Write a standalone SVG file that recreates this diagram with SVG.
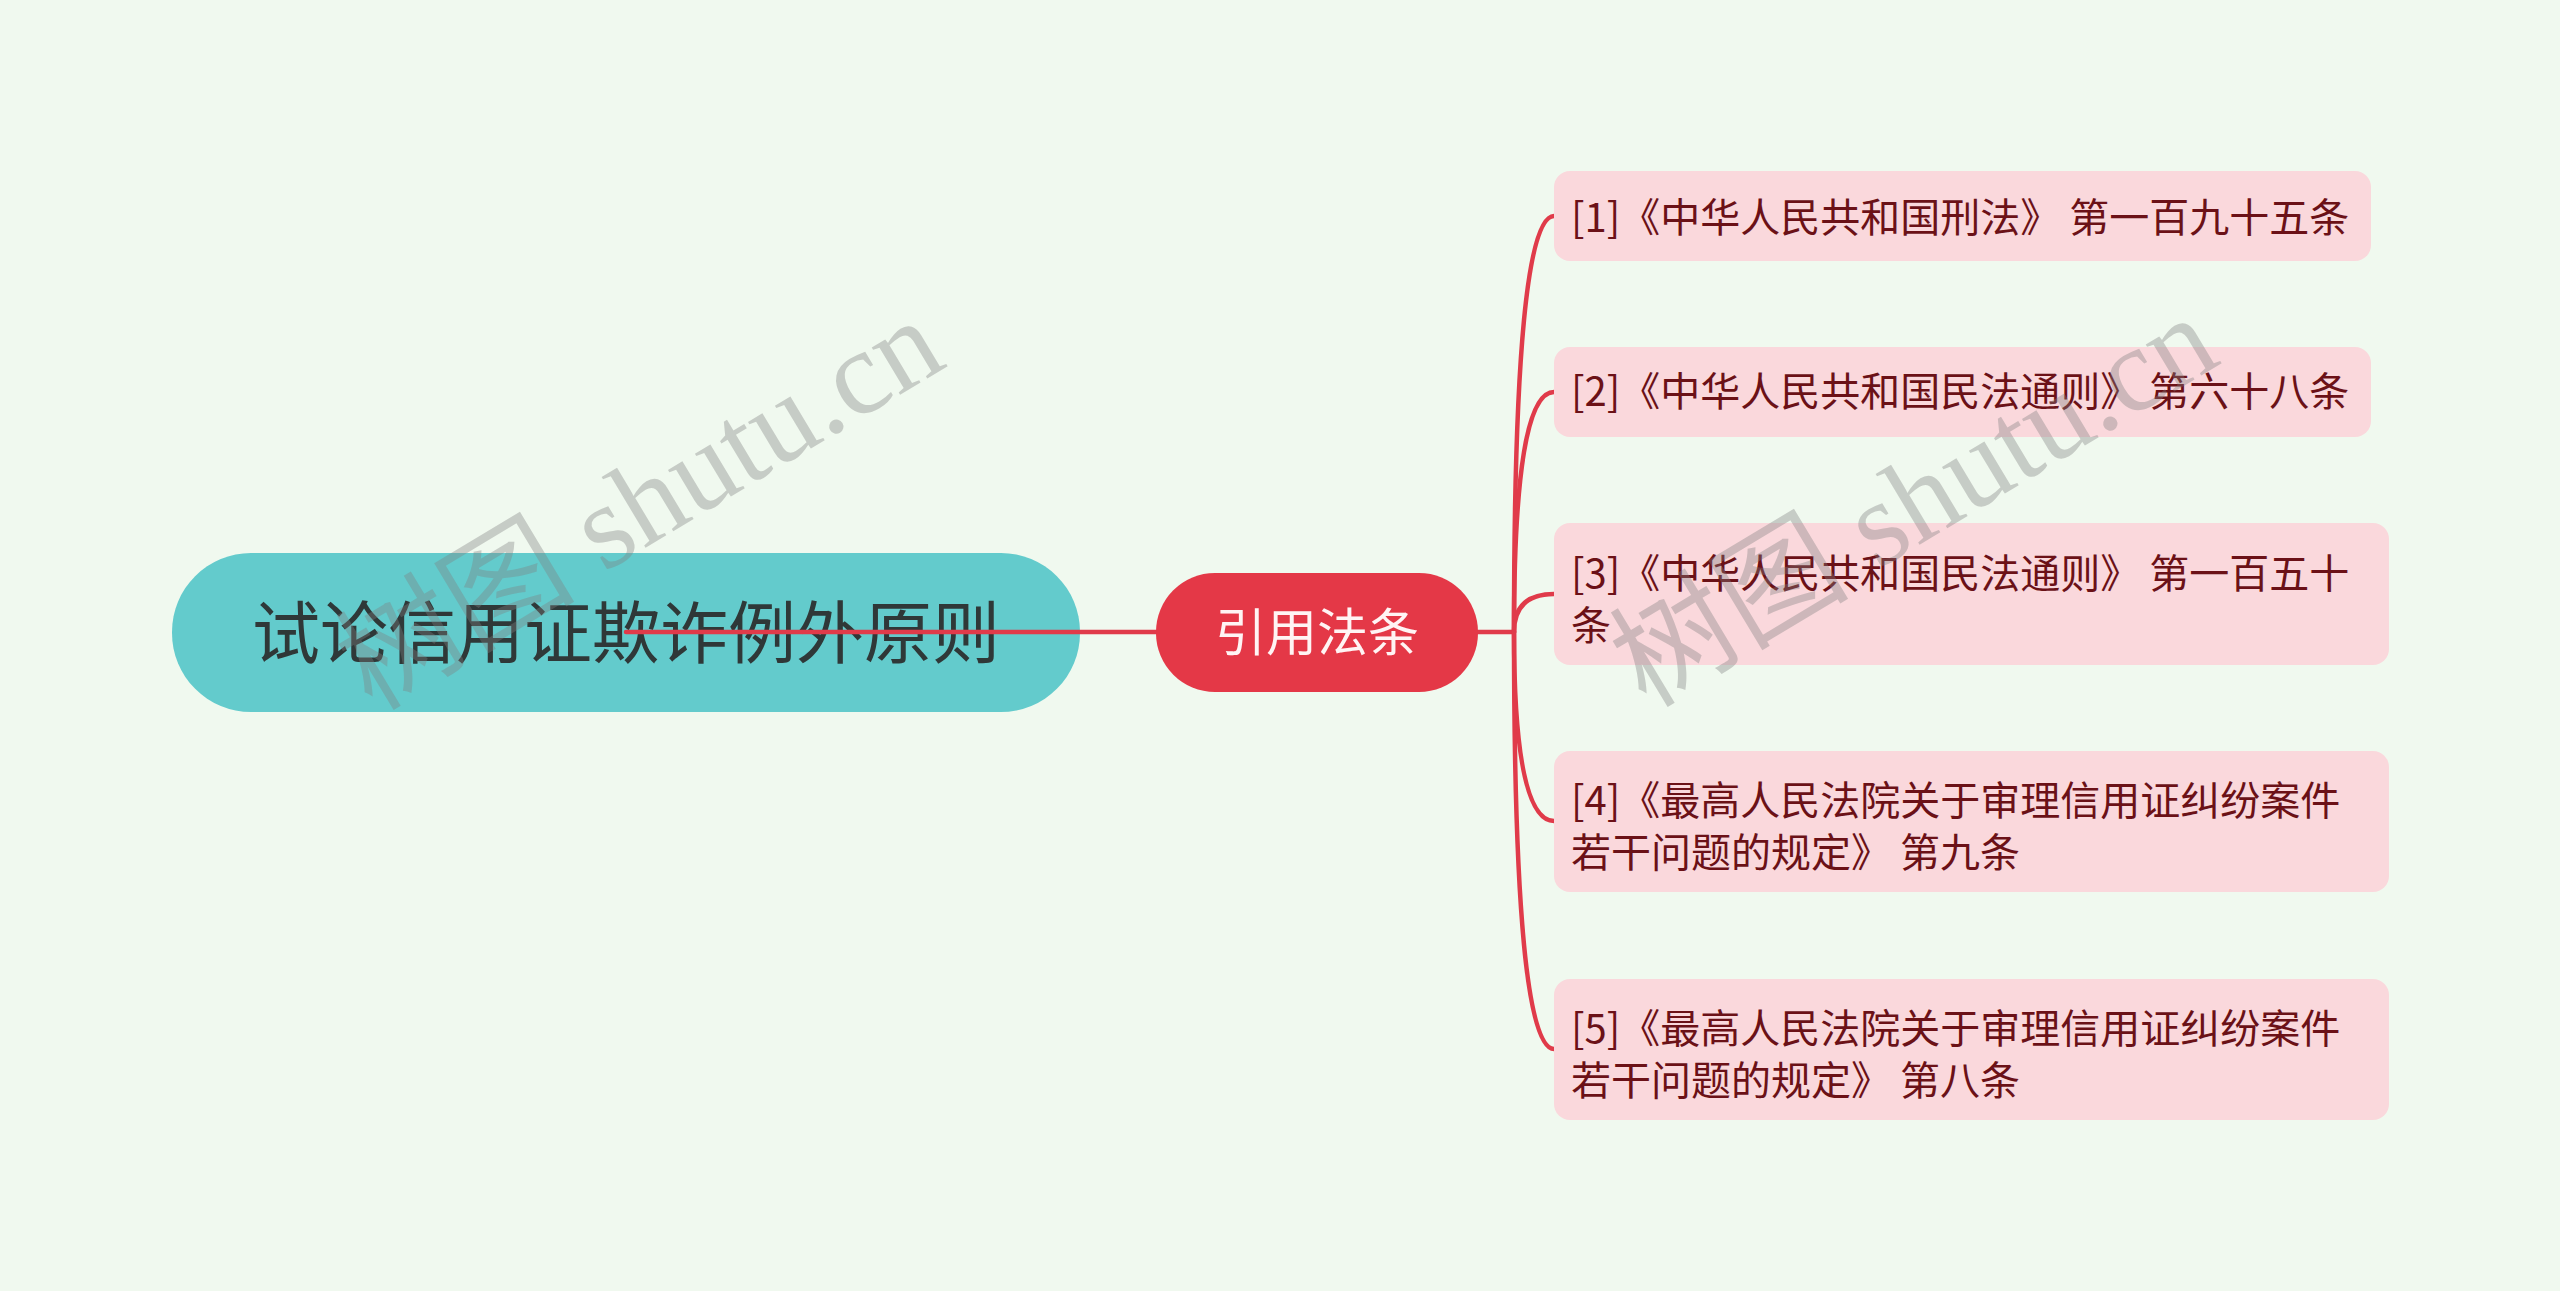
<svg xmlns="http://www.w3.org/2000/svg" width="2560" height="1291" viewBox="0 0 2560 1291">
<style>
.leaf rect{fill:#fad8dc;}
.leaf text{font-family:"Noto Sans CJK SC","Noto Sans",sans-serif;font-size:40px;fill:#6b1117;}
.conn{fill:none;stroke:#e03b4a;stroke-width:4.5;stroke-linecap:round;}
.wm{font-family:"Liberation Serif","Noto Sans CJK SC",serif;font-size:120px;fill:#7f7f7f;fill-opacity:0.37;}
</style>
<rect x="0" y="0" width="2560" height="1291" fill="#f0f9ef"/>
<g id="root">
<rect x="172" y="553" width="908" height="159" rx="79" ry="79" fill="#63cbcc"/>
<text x="626" y="658" text-anchor="middle" font-family="'Noto Sans CJK SC','Noto Sans',sans-serif" font-size="68" fill="#2f3838">试论信用证欺诈例外原则</text>
</g>
<g id="connectors">
<line class="conn" x1="626" y1="632" x2="1160" y2="632" stroke-width="5"/>
<line class="conn" x1="1476" y1="632" x2="1514" y2="632"/>
<path class="conn" d="M1514 632 Q1514 216 1554 216"/>
<path class="conn" d="M1514 632 Q1514 392 1554 392"/>
<path class="conn" d="M1514 632 Q1514 594 1554 594"/>
<path class="conn" d="M1514 632 Q1514 821 1554 821"/>
<path class="conn" d="M1514 632 Q1514 1049 1554 1049"/>
</g>
<g id="child">
<rect x="1156" y="573" width="322" height="119" rx="59" ry="59" fill="#e43847"/>
<text x="1317" y="651" text-anchor="middle" font-family="'Noto Sans CJK SC','Noto Sans',sans-serif" font-size="51" fill="#fff4f4">引用法条</text>
</g>
<g id="leaf1" class="leaf">
<rect x="1554" y="171" width="817" height="90" rx="16"/>
<text x="1571" y="232">[1]《中华人民共和国刑法》 第一百九十五条</text>
</g>
<g id="leaf2" class="leaf">
<rect x="1554" y="347" width="817" height="90" rx="16"/>
<text x="1571" y="406">[2]《中华人民共和国民法通则》 第六十八条</text>
</g>
<g id="leaf3" class="leaf">
<rect x="1554" y="523" width="835" height="142" rx="16"/>
<text x="1571" y="588">[3]《中华人民共和国民法通则》 第一百五十</text>
<text x="1571" y="640">条</text>
</g>
<g id="leaf4" class="leaf">
<rect x="1554" y="751" width="835" height="141" rx="16"/>
<text x="1571" y="815">[4]《最高人民法院关于审理信用证纠纷案件</text>
<text x="1571" y="867">若干问题的规定》 第九条</text>
</g>
<g id="leaf5" class="leaf">
<rect x="1554" y="979" width="835" height="141" rx="16"/>
<text x="1571" y="1043">[5]《最高人民法院关于审理信用证纠纷案件</text>
<text x="1571" y="1095">若干问题的规定》 第八条</text>
</g>
<g id="watermarks">
<text class="wm" x="372" y="712" transform="rotate(-31 372 712)">树图 shutu.cn</text>
<text class="wm" x="1646" y="709" transform="rotate(-31 1646 709)">树图 shutu.cn</text>
</g>
</svg>
